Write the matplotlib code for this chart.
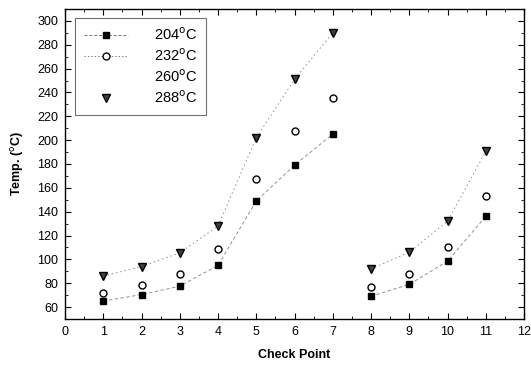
import numpy as np
import matplotlib
import matplotlib.pyplot as plt
from matplotlib.lines import Line2D
from matplotlib.ticker import MultipleLocator

matplotlib.use("Agg")

plt.rcParams['font.family'] = ['Liberation Sans', 'DejaVu Sans']

# 数据：两组检测点（1-7 与 8-11）
points_a = [1, 2, 3, 4, 5, 6, 7]
points_b = [8, 9, 10, 11]

t204_a = [65, 70.5, 77.5, 95, 149, 179, 205]
t204_b = [69, 79, 98.5, 136]
t232_a = [72, 78.5, 87.5, 109, 167, 208, 235]
t232_b = [77, 88, 110.5, 153.5]
t288_a = [86, 94, 105.5, 128, 202, 251, 290]
t288_b = [92, 106, 132, 190.5]

labels = ['204$^{\\rm o}$C', '232$^{\\rm o}$C', '260$^{\\rm o}$C', '288$^{\\rm o}$C']

fig = plt.figure(figsize=(5.31, 3.65), dpi=100)
ax = fig.add_axes([65 / 531, 1 - 319 / 365, (524 - 65) / 531, (319 - 9) / 365])

for xs, y204, y232, y288 in [(points_a, t204_a, t232_a, t288_a),
                             (points_b, t204_b, t232_b, t288_b)]:
    ax.plot(xs, y204, color='0.5', linestyle=(0, (4, 3)), linewidth=0.6)
    ax.plot(xs, y288, color='0.55', linestyle=(0, (1.5, 3)), linewidth=0.7)
    ax.plot(xs, y204, linestyle='none', marker='s', markersize=5,
            color='black')
    ax.plot(xs, y232, linestyle='none', marker='o', markersize=5,
            markerfacecolor='white', markeredgecolor='black', markeredgewidth=1)
    ax.plot(xs, y288, linestyle='none', marker='v', markersize=6,
            markerfacecolor='0.25', markeredgecolor='black', markeredgewidth=1)

ax.set_xlim(0, 12)
ax.set_ylim(50, 310)
ax.xaxis.set_major_locator(MultipleLocator(1))
ax.xaxis.set_minor_locator(MultipleLocator(0.5))
ax.yaxis.set_minor_locator(MultipleLocator(10))
ax.set_yticks(np.arange(60, 301, 20))
ax.tick_params(which='both', direction='in', top=True, right=True,
               labelsize=9)
ax.tick_params(which='major', length=4, width=0.8, pad=5)
ax.tick_params(which='minor', length=2, width=0.6)
for s in ax.spines.values():
    s.set_linewidth(1.0)

ax.set_xlabel('Check Point', fontsize=9, fontweight='bold', labelpad=8)
ax.set_ylabel('Temp. ($^{\\rm o}$C)', fontsize=9, fontweight='bold', labelpad=8)

handles = [
    Line2D([], [], color='0.45', linestyle=(0, (3, 2)), linewidth=0.7,
           marker='s', markersize=5, markerfacecolor='black',
           markeredgecolor='black'),
    Line2D([], [], color='0.5', linestyle=(0, (1.5, 2)), linewidth=0.7,
           marker='o', markersize=5, markerfacecolor='white',
           markeredgecolor='black'),
    Line2D([], [], linestyle='none'),
    Line2D([], [], linestyle='none', marker='v', markersize=6,
           markerfacecolor='0.25', markeredgecolor='black'),
]
leg = ax.legend(handles, labels, loc='upper left', fontsize=10.5,
                frameon=True, fancybox=False, edgecolor='0.3',
                borderpad=0.6, labelspacing=0.3, handlelength=3.0,
                handletextpad=1.8, borderaxespad=0,
                bbox_to_anchor=(10 / 459, 1 - 9 / 310))
leg.get_frame().set_linewidth(0.8)

fig.savefig('out.png', dpi=100)
